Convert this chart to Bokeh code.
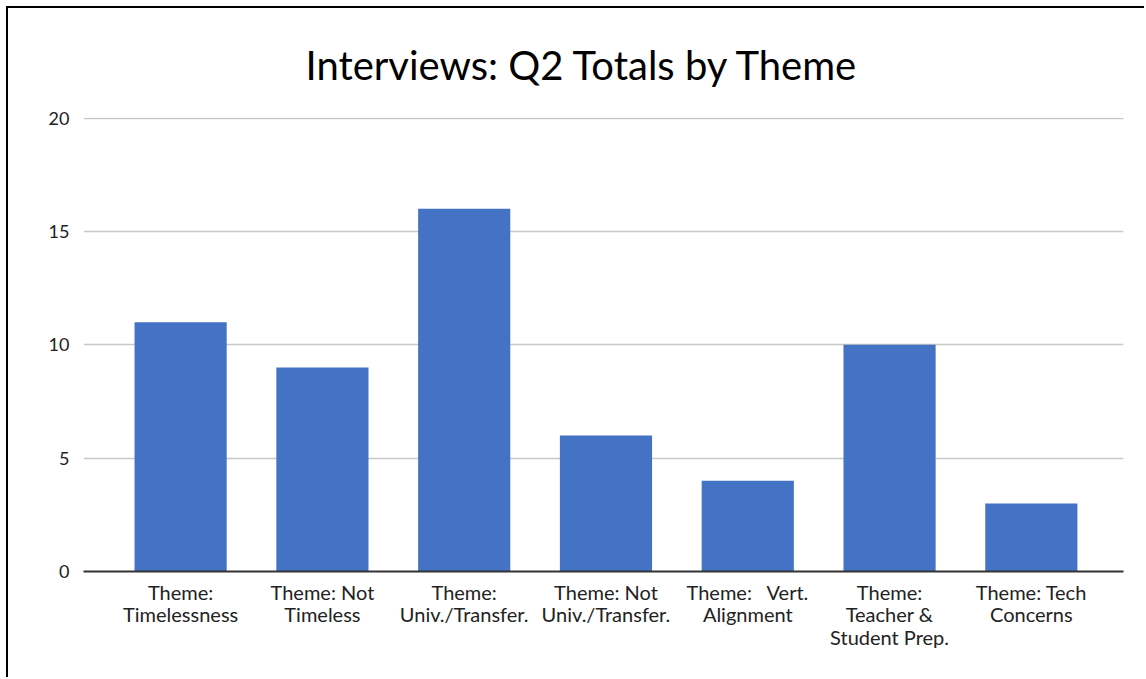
from bokeh.plotting import figure
from bokeh.models import FixedTicker, ColumnDataSource, Range1d
from bokeh.embed import file_html
from bokeh.resources import INLINE

NB = "\u00a0"
categories = ["Theme:\nTimelessness", "Theme: Not\nTimeless", "Theme:\nUniv./Transfer.",
              "Theme: Not\nUniv./Transfer.", "Theme:" + NB + NB + " Vert.\nAlignment",
              "Theme:\nTeacher &\nStudent Prep.", "Theme: Tech\nConcerns"]
values = [11, 9, 16, 6, 4, 10, 3]
y_ticks = [0, 5, 10, 15, 20]

FONT = "Lato"
idx = list(range(len(categories)))
src = ColumnDataSource(dict(x=idx, top=values))

p = figure(width=1138, height=671, output_backend="svg", toolbar_location=None,
           x_range=Range1d(-0.685, len(categories) - 1 + 0.65), y_range=Range1d(0, 20.03),
           min_border_left=75, min_border_right=23, min_border_top=109, min_border_bottom=108,
           title="Interviews: Q2 Totals by Theme")
p.styles = {"border-left": "2px solid black", "border-top": "2px solid black"}
p.margin = (6, 0, 0, 6)

p.vbar(x="x", top="top", width=0.65, source=src, color="#4472C4", line_color=None)

p.title.text_font = FONT
p.title.text_font_size = "40px"
p.title.text_font_style = "normal"
p.title.align = "left"
p.title.offset = 222
p.title.text_color = "#000000"
p.title.standoff = 57

p.xaxis.ticker = FixedTicker(ticks=idx)
p.xaxis.major_label_overrides = {i: c for i, c in enumerate(categories)}
p.xaxis.major_label_text_font = FONT
p.xaxis.major_label_text_font_size = "20px"
p.xaxis.major_label_text_color = "#222222"
p.xaxis.major_label_text_line_height = 0.95
p.xaxis.major_label_standoff = 2
p.xaxis.major_tick_line_color = None
p.xaxis.minor_tick_line_color = None
p.xaxis.axis_line_color = "#333333"
p.xaxis.axis_line_width = 2

p.yaxis.ticker = FixedTicker(ticks=y_ticks)
p.yaxis.major_label_text_font = FONT
p.yaxis.major_label_text_font_size = "18px"
p.yaxis.major_label_text_color = "#222222"
p.yaxis.major_label_standoff = 8
p.yaxis.major_tick_line_color = None
p.yaxis.minor_tick_line_color = None
p.yaxis.axis_line_color = None

p.xgrid.grid_line_color = None
p.ygrid.ticker = FixedTicker(ticks=y_ticks)
p.ygrid.grid_line_color = "#C8C8C8"
p.ygrid.grid_line_width = 1.5
p.outline_line_color = None

open("out.html", "w").write(file_html(p, INLINE))
